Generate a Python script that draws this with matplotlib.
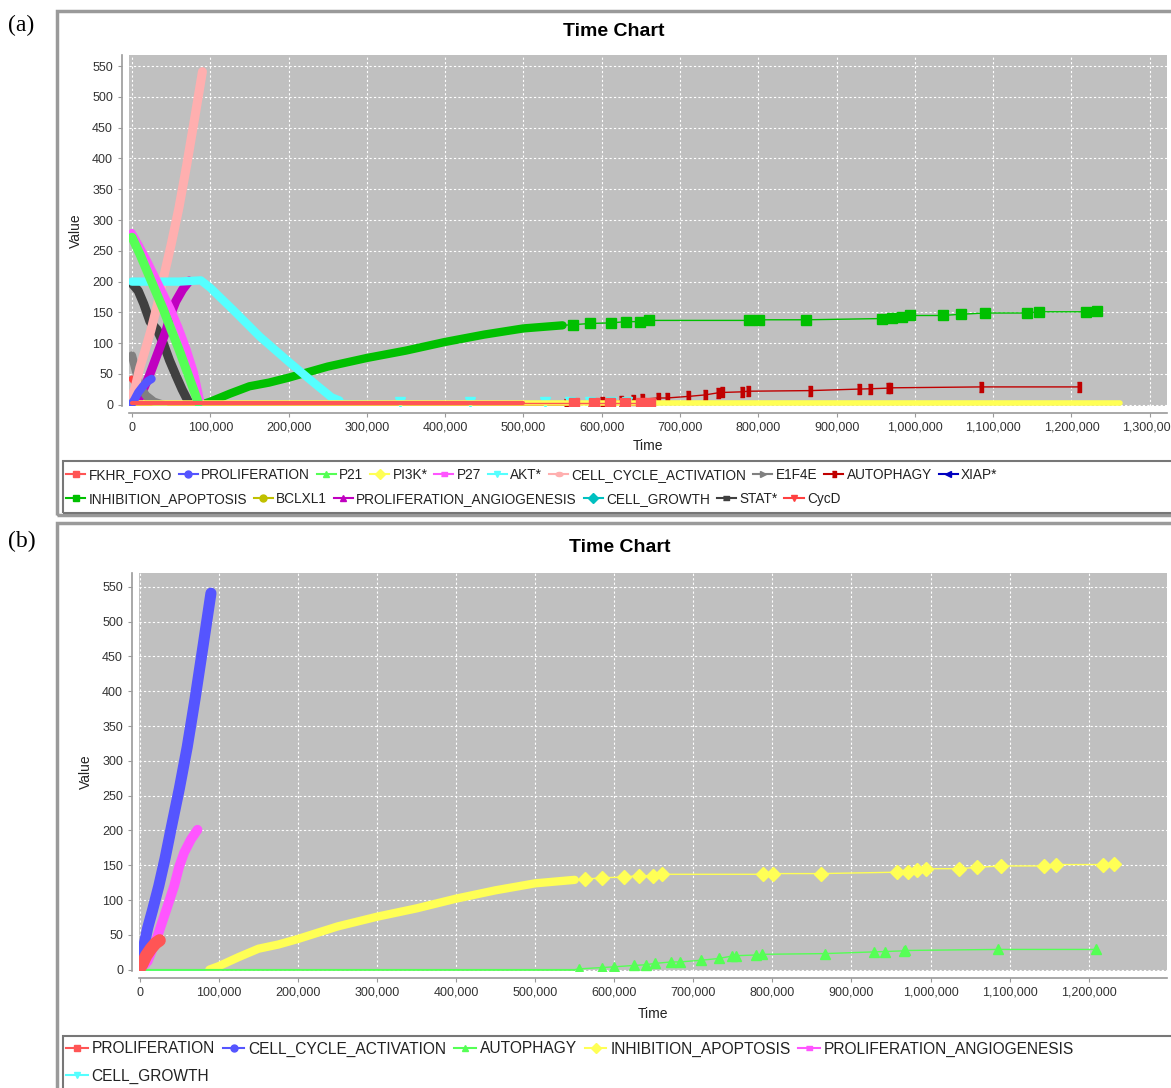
import numpy as np
import matplotlib
matplotlib.use("Agg")
import matplotlib.pyplot as plt
from matplotlib.lines import Line2D
from matplotlib.patches import Rectangle
from matplotlib.ticker import FuncFormatter, MultipleLocator

plt.rcParams['font.family'] = ['Liberation Sans', 'DejaVu Sans']

# ---- data (time, value) ----
fkhr_t = [0, 100000, 300000, 500000, 565000, 590000, 610000, 630000, 650000, 662000]
fkhr_v = [3, 3, 3, 3, 3, 3, 3, 3, 3, 3]

prolif_t = [0, 3000, 8000, 14000, 20000, 25000]
prolif_v = [2, 8, 20, 30, 38, 42]

p21_t = [0, 10000, 20000, 30000, 40000, 50000, 60000, 70000, 80000, 85000]
p21_v = [272, 245, 215, 185, 155, 122, 90, 55, 20, 3]

pi3k_t = [0, 300000, 600000, 900000, 1262000]
pi3k_v = [3, 3, 3, 3, 3]

p27_t = [0, 10000, 20000, 30000, 40000, 50000, 60000, 70000, 80000, 88000]
p27_v = [280, 258, 234, 208, 182, 156, 126, 92, 52, 5]

akt_t = [0, 30000, 60000, 88000, 100000, 130000, 163000, 200000, 230000, 255000, 265000,
         342000, 432000, 527000, 560000, 585000, 612000, 632000]
akt_v = [200, 200, 200, 202, 190, 153, 111, 70, 38, 12, 7, 5, 5, 5, 5, 5, 5, 5]

cca_t = [0, 4000, 10000, 16000, 24000, 32000, 40000, 50000, 60000, 70000, 80000, 90000]
cca_v = [15, 28, 60, 85, 120, 160, 205, 260, 320, 390, 465, 541]

e1f4e_t = [0, 5000, 10000, 18000, 28000, 40000]
e1f4e_v = [80, 55, 30, 15, 5, 0]

auto_t = [0, 100000, 200000, 300000, 400000, 500000, 550000, 555000, 585000, 600000, 625000,
          640000, 652000, 672000, 683000, 710000, 732000, 749000, 754000, 779000, 787000,
          866000, 929000, 943000, 966000, 968000, 1085000, 1209000]
auto_v = [0, 0, 0, 0, 0, 0, 0, 1, 3, 4, 6, 7, 9, 11, 11, 13.5, 16, 19.5, 20, 21, 22,
          23, 25.5, 26, 27, 27.5, 29, 29]

xiap_t = [0, 90000]
xiap_v = [0, 0]

inhib_t = [88000, 100000, 125000, 150000, 175000, 200000, 250000, 300000, 350000, 400000,
           450000, 500000, 550000, 563000, 585000, 612000, 631000, 649000, 661000, 788000,
           801000, 861000, 958000, 971000, 983000, 994000, 1036000, 1059000, 1089000,
           1143000, 1158000, 1218000, 1232000]
inhib_v = [0, 5, 18, 30, 36, 44, 62, 76, 88, 102, 114, 124, 129, 130, 132, 133, 135, 135,
           137, 137, 138, 138, 140, 141, 143, 145, 145, 147, 149, 149, 151, 151, 152]

bclxl1_t = [0, 90000]
bclxl1_v = [0, 0]

pang_t = [0, 10000, 18000, 22400, 35000, 43400, 49800, 56000, 64600, 73000]
pang_v = [0, 12, 35, 48, 91, 120, 148, 168, 187, 201]

growth_t = [0, 90000]
growth_v = [0, 0]

stat_t = [0, 8000, 15000, 23000, 32000, 40000, 48000, 56000, 64000, 74000]
stat_v = [197, 185, 164, 135, 122, 100, 72, 48, 25, 0]

cycd_t = [0, 5000, 12000, 20000, 26000]
cycd_v = [42, 35, 22, 10, 2]

# ---- JFreeChart-like styles ----
hrect = [(-1, -0.5), (1, -0.5), (1, 0.5), (-1, 0.5)]
vrect = [(-0.5, -1), (0.5, -1), (0.5, 1), (-0.5, 1)]
hell = [(np.cos(a), 0.6 * np.sin(a)) for a in np.linspace(0, 2 * np.pi, 25)]

# name, t, v, color, marker, dense-until, dense width
series_a = [
    ("FKHR_FOXO", fkhr_t, fkhr_v, "#FF5555", "s", 562000, 3),
    ("PROLIFERATION", prolif_t, prolif_v, "#5555FF", "o", 1e9, 6),
    ("P21", p21_t, p21_v, "#55FF55", "^", 1e9, 6.5),
    ("PI3K*", pi3k_t, pi3k_v, "#FFFF55", "D", 1e9, 4),
    ("P27", p27_t, p27_v, "#FF55FF", hrect, 1e9, 5),
    ("AKT*", akt_t, akt_v, "#55FFFF", "v", 266000, 6),
    ("CELL_CYCLE_ACTIVATION", cca_t, cca_v, "#FFAFAF", hell, 1e9, 6.5),
    ("E1F4E", e1f4e_t, e1f4e_v, "#808080", ">", 1e9, 6),
    ("AUTOPHAGY", auto_t, auto_v, "#C00000", vrect, 552000, 3),
    ("XIAP*", xiap_t, xiap_v, "#0000C0", "<", 1e9, 2),
    ("INHIBITION_APOPTOSIS", inhib_t, inhib_v, "#00C000", "s", 552000, 6),
    ("BCLXL1", bclxl1_t, bclxl1_v, "#C0C000", "o", 1e9, 2),
    ("PROLIFERATION_ANGIOGENESIS", pang_t, pang_v, "#C000C0", "^", 1e9, 6.5),
    ("CELL_GROWTH", growth_t, growth_v, "#00C0C0", "D", 1e9, 2),
    ("STAT*", stat_t, stat_v, "#404040", hrect, 1e9, 6.5),
    ("CycD", cycd_t, cycd_v, "#FF4040", "v", 1e9, 5),
]

series_b = [
    ("PROLIFERATION", prolif_t, prolif_v, "#FF5555", "s", 1e9, 9),
    ("CELL_CYCLE_ACTIVATION", cca_t, cca_v, "#5555FF", "o", 1e9, 8),
    ("AUTOPHAGY", auto_t, auto_v, "#55FF55", "^", 552000, 1.2),
    ("INHIBITION_APOPTOSIS", inhib_t, inhib_v, "#FFFF55", "D", 552000, 6),
    ("PROLIFERATION_ANGIOGENESIS", pang_t, pang_v, "#FF55FF", hrect, 1e9, 7),
    ("CELL_GROWTH", growth_t, growth_v, "#55FFFF", "v", 1e9, 1),
]

W, H = 1171, 1088
fig = plt.figure(figsize=(W / 100, H / 100), dpi=100)


def fx(px):
    return px / W


def fy(py):
    return 1 - py / H


def frame(x0, y0, x1, y1, lw=2.5, color="#9a9a9a"):
    fig.patches.append(Rectangle((fx(x0), fy(y1)), fx(x1 - x0), (y1 - y0) / H,
                                 transform=fig.transFigure, fill=False,
                                 edgecolor=color, lw=lw, zorder=0))


def make_axes(rect, xmin, xmax, ylim, series, xlab_y, ylab_x):
    ax = fig.add_axes(rect)
    ax.set_facecolor("#C0C0C0")
    n = len(series)
    for i, (name, t, v, c, m, cut, dlw) in enumerate(series):
        t = np.asarray(t, dtype=float)
        v = np.asarray(v, dtype=float)
        z = 3 + (n - i)
        ax.plot(t, v, color=c, lw=1, zorder=z)
        dense = t <= cut
        if dense.sum() > 1:
            ax.plot(t[dense], v[dense], color=c, lw=dlw, solid_capstyle="round", zorder=z)
        if (~dense).any():
            ax.plot(t[~dense], v[~dense], ls="none", marker=m, ms=7, color=c,
                    mec=c, zorder=z)
    ax.set_xlim(xmin, xmax)
    ax.set_ylim(*ylim)
    ax.xaxis.set_major_locator(MultipleLocator(100000))
    ax.yaxis.set_major_locator(MultipleLocator(50))
    ax.xaxis.set_major_formatter(FuncFormatter(lambda x, p: f"{int(round(x)):,}"))
    ax.grid(True, color="white", ls=(0, (2, 2)), lw=0.8)
    ax.set_axisbelow(True)
    for s in ("top", "right"):
        ax.spines[s].set_visible(False)
    for s in ("left", "bottom"):
        ax.spines[s].set_position(("outward", 5))
        ax.spines[s].set_color("#9a9a9a")
        ax.spines[s].set_linewidth(1.2)
    ax.tick_params(labelsize=9, colors="#9a9a9a", labelcolor="#333333", length=3)
    ax.set_xlabel("Time", fontsize=10, color="#222222")
    ax.set_ylabel("Value", fontsize=10, color="#222222")
    ax.xaxis.set_label_coords(0.5, xlab_y)
    ax.yaxis.set_label_coords(ylab_x, 0.5)
    return ax


def legend_row(items, x, y, size):
    handles = [Line2D([], [], color=c, lw=1.5, marker=m, ms=5, mec=c)
               for (name, t, v, c, m, cut, dlw) in items]
    labels = [it[0] for it in items]
    leg = fig.legend(handles, labels, loc="center left", bbox_to_anchor=(fx(x), fy(y)),
                     ncol=len(items), frameon=False, fontsize=size, handlelength=1.4,
                     handletextpad=0.25, columnspacing=0.5, borderpad=0,
                     borderaxespad=0)
    for txt in leg.get_texts():
        txt.set_color("#222222")
    return leg


# ---- panel (a) ----
frame(57, 11, 1175, 515)
frame(63, 461, 1175, 513, lw=1.5, color="#777777")
fig.text(fx(614), fy(32), "Time Chart", ha="center", va="center",
         fontsize=14, fontweight="bold")
make_axes([fx(129), fy(406), fx(1167 - 129), (406 - 55) / H],
          -3800, 1322000, (-2, 568), series_a, -0.095, -0.044)
legend_row(series_a[:10], 66, 475, 9.8)
legend_row(series_a[10:], 66, 499, 9.8)

# ---- panel (b) ----
frame(57, 523, 1175, 1092)
frame(63, 1036, 1175, 1092, lw=1.5, color="#777777")
fig.text(fx(620), fy(547), "Time Chart", ha="center", va="center",
         fontsize=14, fontweight="bold")
make_axes([fx(139), fy(971), fx(1167 - 139), (971 - 573) / H],
          -1000, 1299000, (-2, 570), series_b, -0.09, -0.045)
legend_row(series_b[:5], 66, 1049, 11.2)
legend_row(series_b[5:], 66, 1076, 11.2)

# panel letters
fig.text(fx(8), fy(25), "(a)", fontsize=17, family="Liberation Serif", va="center")
fig.text(fx(8), fy(541), "(b)", fontsize=17, family="Liberation Serif", va="center")

fig.savefig("out.png", dpi=100)
